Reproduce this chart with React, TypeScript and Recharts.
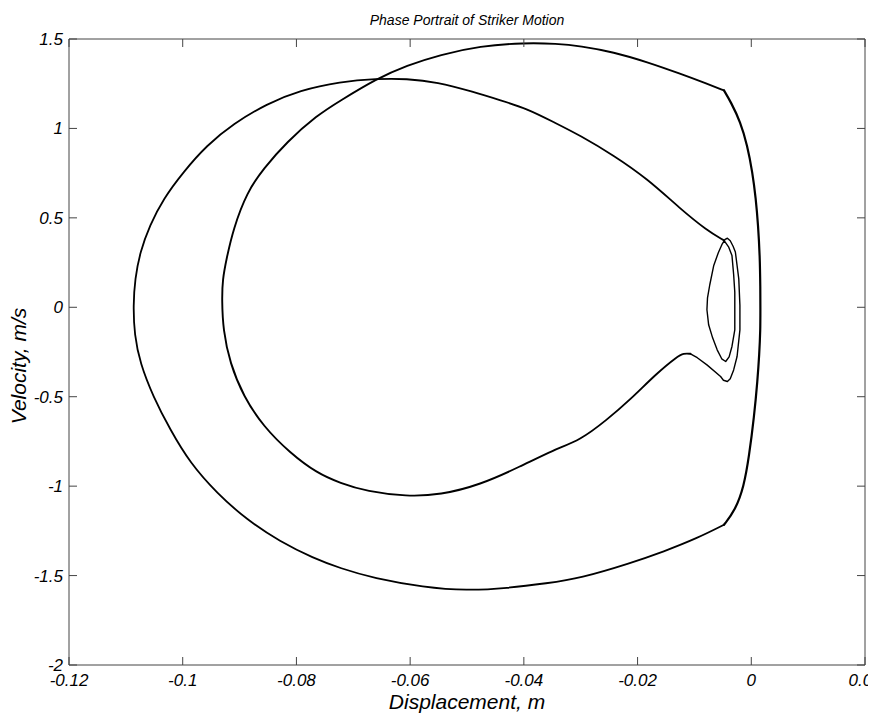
import React from 'react';
import { ComposedChart, Line, XAxis, YAxis } from 'recharts';

type P = { x: number; v: number };

// Contact with the stop (right wall)
const wallContact: P[] = [
  { x: -0.0048, v: 1.2125 }, { x: -0.0036, v: 1.148 }, { x: -0.0019, v: 1.036 },
  { x: -0.0007, v: 0.905 }, { x: 0.0002, v: 0.756 }, { x: 0.0008, v: 0.607 },
  { x: 0.0012, v: 0.458 }, { x: 0.0015, v: 0.29 }, { x: 0.0016, v: 0.103 },
  { x: 0.0016, v: -0.014 }, { x: 0.0016, v: -0.126 }, { x: 0.0014, v: -0.266 },
  { x: 0.0011, v: -0.406 }, { x: 0.0005, v: -0.611 }, { x: -0.0004, v: -0.835 },
  { x: -0.0013, v: -1.002 }, { x: -0.0028, v: -1.133 }, { x: -0.0048, v: -1.216 },
];

// Outer (large) excursion: stop -> far left -> first velocity peak
const outerOrbit: P[] = [
  { x: -0.0048, v: -1.216 }, { x: -0.0095, v: -1.291 }, { x: -0.0154, v: -1.366 },
  { x: -0.0213, v: -1.431 }, { x: -0.0301, v: -1.515 }, { x: -0.0359, v: -1.543 },
  { x: -0.043, v: -1.571 }, { x: -0.05, v: -1.584 }, { x: -0.0576, v: -1.565 },
  { x: -0.0664, v: -1.515 }, { x: -0.0723, v: -1.459 }, { x: -0.077, v: -1.403 },
  { x: -0.0829, v: -1.31 }, { x: -0.0887, v: -1.189 }, { x: -0.094, v: -1.039 },
  { x: -0.0987, v: -0.871 }, { x: -0.1022, v: -0.685 }, { x: -0.1052, v: -0.499 },
  { x: -0.1075, v: -0.312 }, { x: -0.1085, v: -0.154 }, { x: -0.1087, v: 0.01 },
  { x: -0.1084, v: 0.159 }, { x: -0.1075, v: 0.309 }, { x: -0.1058, v: 0.458 },
  { x: -0.1034, v: 0.607 }, { x: -0.0999, v: 0.756 }, { x: -0.0958, v: 0.905 },
  { x: -0.0911, v: 1.026 }, { x: -0.0852, v: 1.138 }, { x: -0.0794, v: 1.2125 },
  { x: -0.0723, v: 1.261 }, { x: -0.0659, v: 1.278 }, { x: -0.0606, v: 1.278 },
];

// Descent from the first peak toward the stop
const outerDescent: P[] = [
  { x: -0.0606, v: 1.278 },
  { x: -0.0553, v: 1.26 }, { x: -0.0488, v: 1.204 }, { x: -0.0441, v: 1.157 },
  { x: -0.0394, v: 1.11 }, { x: -0.0348, v: 1.036 }, { x: -0.0301, v: 0.961 },
  { x: -0.0242, v: 0.849 }, { x: -0.0183, v: 0.719 }, { x: -0.0125, v: 0.551 },
  { x: -0.0078, v: 0.43 }, { x: -0.0048, v: 0.374 },
];

// Small loops near the stop
const nearWallLoops: P[] = [
  { x: -0.0048, v: 0.374 }, { x: -0.004, v: 0.338 }, { x: -0.0034, v: 0.29 },
  { x: -0.0031, v: 0.182 }, { x: -0.0029, v: 0.085 }, { x: -0.0029, v: -0.042 },
  { x: -0.0029, v: -0.126 }, { x: -0.0034, v: -0.219 }, { x: -0.0039, v: -0.277 },
  { x: -0.0045, v: -0.303 }, { x: -0.0052, v: -0.288 }, { x: -0.006, v: -0.238 },
  { x: -0.0068, v: -0.171 }, { x: -0.0075, v: -0.098 }, { x: -0.0078, v: -0.014 },
  { x: -0.0077, v: 0.053 }, { x: -0.0073, v: 0.126 }, { x: -0.0066, v: 0.234 },
  { x: -0.0058, v: 0.305 }, { x: -0.0051, v: 0.355 }, { x: -0.0046, v: 0.38 },
  { x: -0.0042, v: 0.386 }, { x: -0.0037, v: 0.372 }, { x: -0.0032, v: 0.341 },
  { x: -0.0028, v: 0.309 }, { x: -0.0022, v: 0.159 }, { x: -0.002, v: 0.01 },
  { x: -0.002, v: -0.126 }, { x: -0.0025, v: -0.275 }, { x: -0.0031, v: -0.35 },
  { x: -0.0037, v: -0.4 }, { x: -0.0042, v: -0.415 }, { x: -0.0049, v: -0.408 },
  { x: -0.0054, v: -0.387 }, { x: -0.0078, v: -0.322 }, { x: -0.0095, v: -0.282 },
  { x: -0.0107, v: -0.26 },
];

// Connection from the local hump to the inner excursion
const humpLink: P[] = [
  { x: -0.0107, v: -0.26 }, { x: -0.0119, v: -0.257 }, { x: -0.013, v: -0.275 },
  { x: -0.0166, v: -0.368 }, { x: -0.0213, v: -0.517 }, { x: -0.0254, v: -0.629 },
  { x: -0.0301, v: -0.744 },
];

// Inner (second) excursion, back to the stop
const innerOrbit: P[] = [
  { x: -0.0301, v: -0.744 }, { x: -0.0348, v: -0.797 }, { x: -0.0406, v: -0.89 },
  { x: -0.0477, v: -0.993 }, { x: -0.0547, v: -1.049 }, { x: -0.0606, v: -1.058 },
  { x: -0.0676, v: -1.03 }, { x: -0.0723, v: -0.983 }, { x: -0.0764, v: -0.927 },
  { x: -0.0811, v: -0.815 }, { x: -0.0858, v: -0.667 }, { x: -0.0893, v: -0.499 },
  { x: -0.0917, v: -0.312 }, { x: -0.0929, v: -0.126 }, { x: -0.0931, v: 0.042 },
  { x: -0.093, v: 0.154 }, { x: -0.0923, v: 0.271 }, { x: -0.0911, v: 0.439 },
  { x: -0.0887, v: 0.644 }, { x: -0.0858, v: 0.775 }, { x: -0.0817, v: 0.924 },
  { x: -0.0764, v: 1.073 }, { x: -0.0723, v: 1.155 }, { x: -0.0659, v: 1.278 },
  { x: -0.0606, v: 1.352 }, { x: -0.0547, v: 1.412 }, { x: -0.0477, v: 1.461 },
  { x: -0.04, v: 1.479 }, { x: -0.0342, v: 1.474 }, { x: -0.0301, v: 1.461 },
  { x: -0.0242, v: 1.427 }, { x: -0.0183, v: 1.371 }, { x: -0.0125, v: 1.306 },
  { x: -0.0078, v: 1.25 }, { x: -0.0048, v: 1.2125 },
];

const xTicks = [-0.12, -0.1, -0.08, -0.06, -0.04, -0.02, 0, 0.02];
const xTickLabels = ['-0.12', '-0.1', '-0.08', '-0.06', '-0.04', '-0.02', '0', '0.02'];
const yTicks = [-2, -1.5, -1, -0.5, 0, 0.5, 1, 1.5];
const yTickLabels = ['-2', '-1.5', '-1', '-0.5', '0', '0.5', '1', '1.5'];

const titleText = 'Phase Portrait of Striker Motion';
const xLabelText = 'Displacement, m';
const yLabelText = 'Velocity, m/s';

const FONT = '"Liberation Sans", Arial, Helvetica, sans-serif';
const AX = '#444';
const TICK_LEN = 8;

const W = 864;
const H = 713;
const M = { top: 31, right: 7, bottom: 56, left: 61 };

const findIdx = (arr: number[], v: number) => arr.findIndex((a) => Math.abs(a - v) < 1e-9);

const BottomTick = (props: any) => {
  const { x, y, payload } = props;
  const i = findIdx(xTicks, payload.value);
  return (
    <g>
      <line x1={x} y1={y} x2={x} y2={y - TICK_LEN} stroke={AX} strokeWidth={1} />
      <text x={x} y={y + 21} textAnchor="middle" fontFamily={FONT} fontStyle="italic" fontSize={17} fill="#000">
        {xTickLabels[i]}
      </text>
    </g>
  );
};

const TopTick = (props: any) => {
  const { x, y } = props;
  return <line x1={x} y1={y} x2={x} y2={y + TICK_LEN} stroke={AX} strokeWidth={1} />;
};

const LeftTick = (props: any) => {
  const { x, y, payload } = props;
  const i = findIdx(yTicks, payload.value);
  return (
    <g>
      <line x1={x} y1={y} x2={x + TICK_LEN} y2={y} stroke={AX} strokeWidth={1} />
      <text x={x - 6} y={y + 6} textAnchor="end" fontFamily={FONT} fontStyle="italic" fontSize={17} fill="#000">
        {yTickLabels[i]}
      </text>
    </g>
  );
};

const RightTick = (props: any) => {
  const { x, y } = props;
  return <line x1={x} y1={y} x2={x - TICK_LEN} y2={y} stroke={AX} strokeWidth={1} />;
};

const segments = [
  { name: 'wall', data: wallContact, w: 2.2, type: 'basis' },
  { name: 'outer', data: [...outerOrbit, ...outerDescent.slice(1)], w: 1.8, type: 'basis' },
  { name: 'loops', data: nearWallLoops, w: 1.4, type: 'linear' },
  { name: 'inner', data: [...humpLink, ...innerOrbit.slice(1)], w: 1.9, type: 'basis' },
];

export default function App() {
  const plotCx = M.left + (W - M.left - M.right) / 2;
  return (
    <div style={{ position: 'relative', width: W, height: H }}>
      <ComposedChart width={W} height={H} margin={{ top: M.top - 1, right: M.right - 1, bottom: 0, left: 0 }}>
        <XAxis
          xAxisId="b"
          type="number"
          dataKey="x"
          domain={[-0.12, 0.02]}
          ticks={xTicks}
          interval={0}
          tickSize={0}
          tickMargin={0}
          tickLine={false}
          axisLine={{ stroke: AX, strokeWidth: 1 }}
          height={M.bottom}
          tick={<BottomTick />}
          allowDataOverflow
        />
        <XAxis
          xAxisId="t"
          orientation="top"
          type="number"
          dataKey="x"
          domain={[-0.12, 0.02]}
          ticks={xTicks}
          interval={0}
          tickSize={0}
          tickMargin={0}
          tickLine={false}
          axisLine={{ stroke: AX, strokeWidth: 1 }}
          height={1}
          tick={<TopTick />}
          allowDataOverflow
        />
        <YAxis
          yAxisId="l"
          type="number"
          domain={[-2, 1.5]}
          ticks={yTicks}
          interval={0}
          tickSize={0}
          tickMargin={0}
          tickLine={false}
          axisLine={{ stroke: AX, strokeWidth: 1 }}
          width={M.left}
          tick={<LeftTick />}
          allowDataOverflow
        />
        <YAxis
          yAxisId="r"
          orientation="right"
          type="number"
          domain={[-2, 1.5]}
          ticks={yTicks}
          interval={0}
          tickSize={0}
          tickMargin={0}
          tickLine={false}
          axisLine={{ stroke: AX, strokeWidth: 1 }}
          width={1}
          tick={<RightTick />}
          allowDataOverflow
        />
        {segments.map((s) => (
          <Line
            key={s.name}
            xAxisId="b"
            yAxisId="l"
            data={s.data}
            dataKey="v"
            type={s.type as any}
            stroke="#000"
            strokeWidth={s.w}
            strokeLinejoin="round"
            strokeLinecap="round"
            dot={false}
            activeDot={false}
            isAnimationActive={false}
          />
        ))}
        {/* invisible series so the top / right axes are bound to data */}
        <Line
          xAxisId="t"
          yAxisId="r"
          data={wallContact}
          dataKey="v"
          stroke="none"
          dot={false}
          activeDot={false}
          isAnimationActive={false}
        />
      </ComposedChart>
      <svg
        width={W}
        height={H}
        style={{ position: 'absolute', left: 0, top: 0, pointerEvents: 'none' }}
      >
        <text x={plotCx} y={17} textAnchor="middle" fontFamily={FONT} fontStyle="italic" fontSize={14} fill="#000">
          {titleText}
        </text>
        <text x={plotCx} y={701} textAnchor="middle" fontFamily={FONT} fontStyle="italic" fontSize={21} fill="#000">
          {xLabelText}
        </text>
        <text
          x={0}
          y={0}
          transform={`translate(18, 358) rotate(-90)`}
          textAnchor="middle"
          fontFamily={FONT}
          fontStyle="italic"
          fontSize={21}
          fill="#000"
        >
          {yLabelText}
        </text>
      </svg>
    </div>
  );
}
